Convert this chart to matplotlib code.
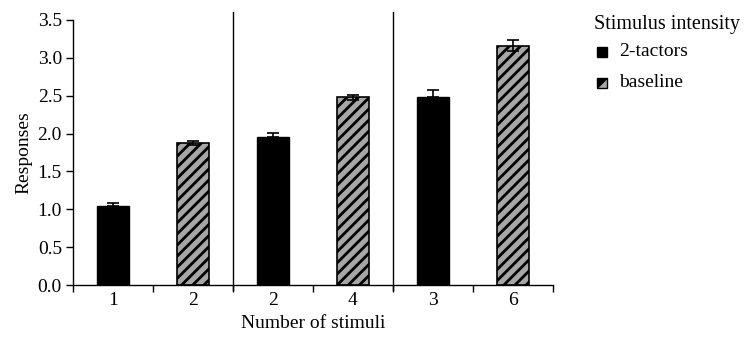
import matplotlib
matplotlib.use("Agg")
import matplotlib.pyplot as plt
from matplotlib.patches import Rectangle, Polygon
import numpy as np

plt.rcParams['font.family'] = ['Liberation Serif', 'DejaVu Serif']
plt.rcParams['hatch.linewidth'] = 2.0

tick_labels = ['1', '2', '2', '4', '3', '6']
series = ['2-tactors', 'baseline', '2-tactors', 'baseline', '2-tactors', 'baseline']
values = [1.05, 1.88, 1.95, 2.48, 2.48, 3.16]
errors = [0.03, 0.025, 0.06, 0.03, 0.10, 0.07]
legend_title = 'Stimulus intensity'
legend_labels = ['2-tactors', 'baseline']

fs = 14
W, H = 755, 337
fig = plt.figure(figsize=(7.55, 3.37), dpi=100)
ax = fig.add_axes([73/W, 1 - 285/H, 480/W, 265/H])

styles = {'2-tactors': dict(color='black', edgecolor='black', linewidth=1),
          'baseline': dict(color='#a6a6a6', edgecolor='black', hatch='///', linewidth=1.2)}

x = np.arange(len(values))
for i in range(len(values)):
    ax.bar(x[i], values[i], width=0.41, **styles[series[i]])
    if series[i] == '2-tactors':
        yerr = [[0], [errors[i]]]
    else:
        yerr = errors[i]
    ax.errorbar(x[i], values[i], yerr=yerr, fmt='none', ecolor='black',
                elinewidth=1.2, capsize=4, capthick=1.2)

ax.set_xlim(-0.5, 5.5)
ax.set_ylim(0, 3.5)
yt = np.arange(0, 3.51, 0.5)
ax.set_yticks(yt)
ax.set_yticklabels([f'{v:.1f}' for v in yt])
ax.set_xticks(x)
ax.set_xticklabels(tick_labels)
ax.set_xticks(np.arange(-0.5, 5.6, 1), minor=True)
ax.tick_params(axis='x', which='major', length=0, labelsize=fs, pad=5)
ax.tick_params(axis='x', which='minor', length=5, width=1, direction='out')
ax.tick_params(axis='y', length=5, width=1, labelsize=fs, pad=3)
for s in ['top', 'right']:
    ax.spines[s].set_visible(False)
ax.spines['left'].set_linewidth(1)
ax.spines['bottom'].set_linewidth(1)

for xv in [1.5, 3.5]:
    ax.plot([xv, xv], [-0.07, 3.6], color='black', linewidth=1, clip_on=False)

ax.set_ylabel('Responses', fontsize=fs, labelpad=4)
ax.set_xlabel('Number of stimuli', fontsize=fs, labelpad=4)

# legend drawn manually
def fx(px):
    return px / W

def fy(py):
    return 1 - py / H

fig.text(fx(594), fy(25), legend_title, fontsize=fs + 0.5, ha='left', va='center')
for lab, yc in zip(legend_labels, [52, 83]):
    st = styles[lab]
    x0, x1, y0, y1 = 597, 607, yc - 5, yc + 5
    rect = Rectangle((fx(x0), fy(y1)), fx(x1) - fx(x0), fy(y0) - fy(y1),
                     transform=fig.transFigure, facecolor=st['color'],
                     edgecolor='black', linewidth=1)
    fig.patches.append(rect)
    if 'hatch' in st:
        tri = Polygon([(fx(x0), fy(y1)), (fx(x0), fy(y0)), (fx(x1), fy(y0))],
                      closed=True, transform=fig.transFigure, facecolor='black',
                      edgecolor='black', linewidth=0.5)
        fig.patches.append(tri)
    fig.text(fx(619), fy(yc), lab, fontsize=fs, ha='left', va='center')

fig.savefig('out.png', dpi=100)
